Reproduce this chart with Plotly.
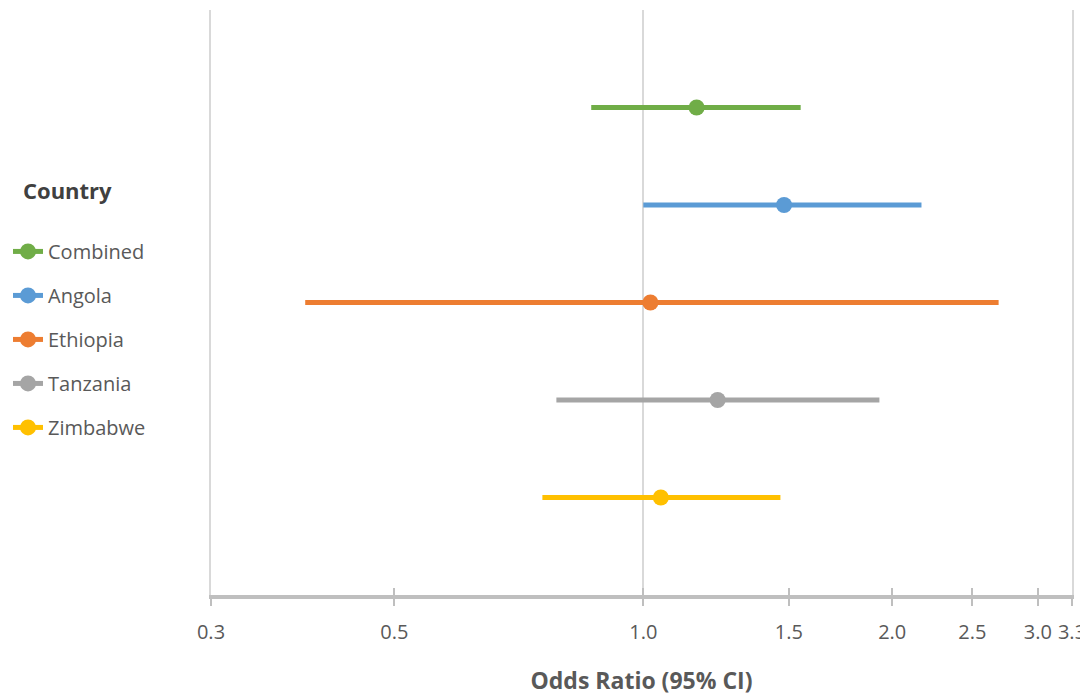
import math
import plotly.graph_objects as go

countries = ["Combined", "Angola", "Ethiopia", "Tanzania", "Zimbabwe"]
odds_ratio = [1.16, 1.48, 1.02, 1.23, 1.05]
ci_low = [0.865, 1.00, 0.39, 0.785, 0.755]
ci_high = [1.55, 2.17, 2.69, 1.93, 1.465]
rows = [1, 2, 3, 4, 5]
colors = ["#70AD47", "#5B9BD5", "#ED7D31", "#A5A5A5", "#FFC000"]
tick_vals = [0.3, 0.5, 1.0, 1.5, 2.0, 2.5, 3.0, 3.3]
tick_text = ["0.3", "0.5", "1.0", "1.5", "2.0", "2.5", "3.0", "3.3"]
grid_vals = [1.0]

FONT = "Open Sans"
xr = [math.log10(0.3), math.log10(3.3)]

fig = go.Figure()
for i, name in enumerate(countries):
    fig.add_trace(go.Scatter(
        x=[odds_ratio[i]], y=[rows[i]], name=name,
        mode="lines+markers",
        legendgroup=name,
        line=dict(color=colors[i], width=5),
        marker=dict(color=colors[i], size=16),
        error_x=dict(type="data", symmetric=False,
                     array=[ci_high[i] - odds_ratio[i]],
                     arrayminus=[odds_ratio[i] - ci_low[i]],
                     color=colors[i], thickness=5, width=0),
    ))

# helper traces so overlay axes are drawn
for ax in ["x2", "x3"]:
    fig.add_trace(go.Scatter(x=[1.0], y=[rows[0]], xaxis=ax, mode="markers",
                             marker=dict(opacity=0), showlegend=False,
                             hoverinfo="skip"))

fig.update_layout(
    width=1080, height=688,
    paper_bgcolor="white", plot_bgcolor="white",
    margin=dict(l=203, r=16, t=2, b=101),
    font=dict(family=FONT, size=20, color="#595959"),
    showlegend=True,
    legend=dict(
        title=dict(text="&nbsp;&nbsp;<span style='font-size:22px'><b>Country</b></span><br> ",
                   font=dict(family=FONT, size=25, color="#404040")),
        xref="container", yref="container",
        x=0.0, y=0.769, xanchor="left", yanchor="top",
        font=dict(family=FONT, size=20, color="#595959"),
        traceorder="grouped", tracegroupgap=15,
        bgcolor="rgba(0,0,0,0)",
    ),
    xaxis=dict(
        type="log", range=xr, automargin=False,
        tickvals=tick_vals, ticktext=tick_text,
        showgrid=False, zeroline=False,
        showline=True, linecolor="#BFBFBF", linewidth=4,
        ticks="outside", ticklen=7, tickcolor="#BFBFBF", tickwidth=1.5,
        ticklabelstandoff=9,
        tickfont=dict(family=FONT, size=20, color="#595959"),
        title=dict(text="<b>Odds Ratio (95% CI)</b>", standoff=39,
                   font=dict(family=FONT, size=23, color="#595959")),
    ),
    xaxis2=dict(
        type="log", range=xr, overlaying="x", anchor="y", side="bottom",
        tickvals=tick_vals, showticklabels=False, showgrid=False,
        ticks="inside", ticklen=7, tickcolor="#BFBFBF", tickwidth=1.5,
        showline=False, zeroline=False, automargin=False,
    ),
    xaxis3=dict(
        type="log", range=xr, overlaying="x", anchor="y", side="bottom",
        tickvals=grid_vals, showticklabels=False, ticks="",
        showgrid=True, gridcolor="#D9D9D9", gridwidth=2,
        showline=False, zeroline=False, automargin=False,
    ),
    yaxis=dict(
        range=[6, 0], showticklabels=False, ticks="", automargin=False,
        showgrid=False, zeroline=False,
        showline=True, mirror=True, linecolor="#D9D9D9", linewidth=2,
    ),
)

fig.write_html("out.html")
